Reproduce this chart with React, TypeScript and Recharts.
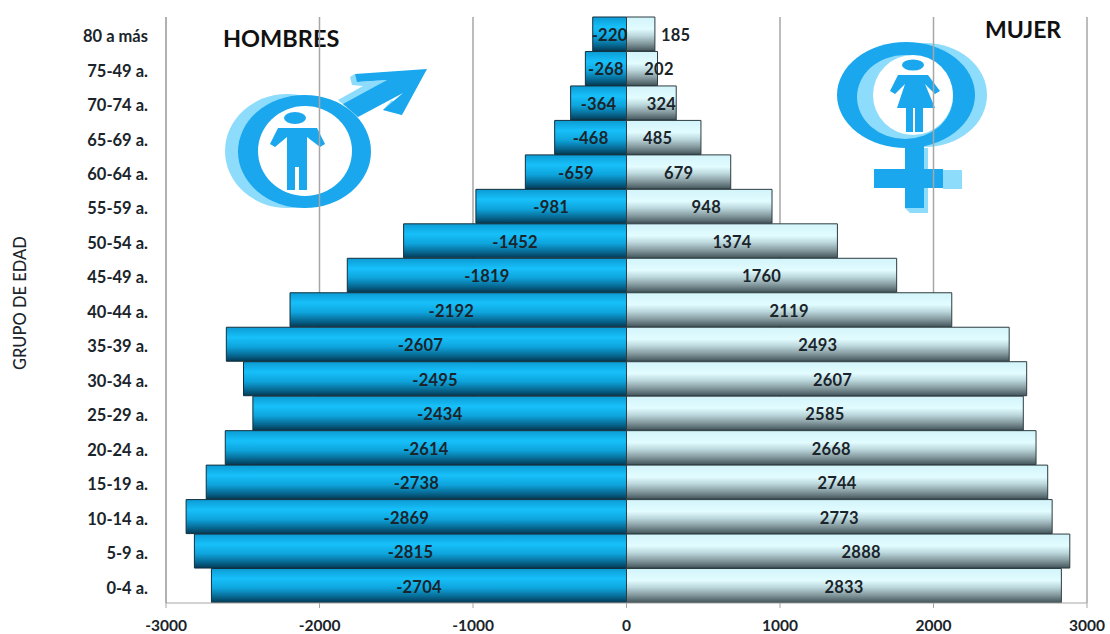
import { BarChart, Bar, XAxis, YAxis, CartesianGrid, LabelList } from 'recharts';

const ageGroups = ['80 a más', '75-49 a.', '70-74 a.', '65-69 a.', '60-64 a.', '55-59 a.', '50-54 a.', '45-49 a.', '40-44 a.', '35-39 a.', '30-34 a.', '25-29 a.', '20-24 a.', '15-19 a.', '10-14 a.', '5-9 a.', '0-4 a.'];
const hombres = [-220, -268, -364, -468, -659, -981, -1452, -1819, -2192, -2607, -2495, -2434, -2614, -2738, -2869, -2815, -2704];
const mujeres = [185, 202, 324, 485, 679, 948, 1374, 1760, 2119, 2493, 2607, 2585, 2668, 2744, 2773, 2888, 2833];
const xTicks = [-3000, -2000, -1000, 0, 1000, 2000, 3000];

// labels Excel left off-centre in the original
const femaleLabelNudge: Record<string, number> = { '80 a más': 35, '75-49 a.': 17, '70-74 a.': 10, '65-69 a.': -6, '55-59 a.': 7, '30-34 a.': 6, '5-9 a.': 13 };
const maleLabelNudge: Record<string, number> = { '40-44 a.': -7, '35-39 a.': -6 };

const data = ageGroups.map((grupo, i) => ({ grupo, hombres: hombres[i], mujeres: mujeres[i] }));

const font = 'Lato, "Open Sans", sans-serif';

function barLabel(nudge: Record<string, number>) {
    return (props: any) => {
        const { x, y, width, height, value, index } = props;
        const shift = nudge[ageGroups[index]] || 0;
        return (
            <text
                x={x + width / 2 + shift}
                y={y + height / 2 + 1}
                textAnchor="middle"
                dominantBaseline="central"
                fontFamily={font}
                fontWeight={700}
                fontSize={16.5}
                letterSpacing={0.2}
                fill="#1a242a"
            >
                {value}
            </text>
        );
    };
}

function Backdrop() {
    const blue = '#1aa7ee';
    const pale = '#8ddcfb';
    return (
        <svg width={1110} height={634} style={{ position: 'absolute', left: 0, top: 0 }}>
            <text x={223} y={47} fontFamily={font} fontWeight={700} fontSize={23.5} fill="#111">HOMBRES</text>
            <text x={985} y={38} fontFamily={font} fontWeight={700} fontSize={23} fill="#111">MUJER</text>

            {/* male symbol */}
            <ellipse cx={287} cy={151} rx={62} ry={57} fill={pale} />
            <polygon points="338,100 363,86 352,85 350,77 355,74 360,82 387,80 345,106" fill={pale} />
            <polygon points="383,110 392,100 402,115" fill={pale} />
            <polygon points="343,104 387,80 357,82 355,74 427,69 402,115 383,110 403,93 358,117" fill={blue} />
            <ellipse cx={304.5} cy={151.5} rx={66.5} ry={56.5} fill={blue} />
            <ellipse cx={305} cy={151} rx={47} ry={45} fill="#fff" />
            <ellipse cx={295} cy={118} rx={11} ry={6} fill={blue} />
            <polygon points="278,128 317,128 325,144 320,147 307,137 307,190 299,190 299,167 295,167 295,190 287,190 287,137 275,147 270,144" fill={blue} />

            {/* female symbol */}
            <ellipse cx={925} cy={95} rx={62} ry={52} fill={pale} />
            <polygon points="943,170 962,170 962,189 943,189" fill={pale} />
            <polygon points="905,208 910,213 928,213 928,148 905,148" fill={pale} />
            <ellipse cx={906} cy={95} rx={69} ry={53} fill={blue} />
            <ellipse cx={905} cy={97} rx={48} ry={42} fill={pale} />
            <ellipse cx={913} cy={95} rx={40} ry={40} fill="#fff" />
            <rect x={905} y={145} width={19} height={63} fill={blue} />
            <rect x={874} y={169} width={69} height={19} fill={blue} />
            <ellipse cx={913} cy={65} rx={11} ry={5.5} fill={blue} />
            <polygon points="898,75 928,75 940,91 935,94 925,84 935,108 923,108 923,132 915,132 915,108 913,108 913,132 906,132 906,108 897,108 905,84 895,94 890,91" fill={blue} />
        </svg>
    );
}

export default function App() {
    return (
        <div style={{ position: 'absolute', left: 0, top: 0, width: 1110, height: 634, background: '#fff' }}>
            <Backdrop />
            <div style={{ position: 'absolute', left: 0, top: 0 }}>
                <BarChart
                    width={1110}
                    height={634}
                    data={data}
                    layout="vertical"
                    stackOffset="sign"
                    barCategoryGap={0}
                    margin={{ top: 17, right: 23, left: 0, bottom: 0 }}
                >
                    <defs>
                        <linearGradient id="gradHombres" x1="0" y1="0" x2="0" y2="1">
                            <stop offset="0%" stopColor="#0c9bd4" />
                            <stop offset="30%" stopColor="#17c0fa" />
                            <stop offset="58%" stopColor="#0ea4dc" />
                            <stop offset="82%" stopColor="#076a94" />
                            <stop offset="100%" stopColor="#033a55" />
                        </linearGradient>
                        <linearGradient id="gradMujeres" x1="0" y1="0" x2="0" y2="1">
                            <stop offset="0%" stopColor="#d2f4fa" />
                            <stop offset="35%" stopColor="#e2fcff" />
                            <stop offset="55%" stopColor="#bcd8dd" />
                            <stop offset="78%" stopColor="#84999e" />
                            <stop offset="100%" stopColor="#42555a" />
                        </linearGradient>
                    </defs>
                    <CartesianGrid horizontal={false} stroke="#a6a6a6" strokeWidth={1.5} />
                    <XAxis
                        type="number"
                        domain={[-3000, 3000]}
                        ticks={xTicks}
                        height={31}
                        interval={0}
                        tickSize={5}
                        tickMargin={12}
                        stroke="#a6a6a6"
                        tick={{ fontFamily: font, fontWeight: 700, fontSize: 15.5, fill: '#1a242a' }}
                    />
                    <YAxis
                        type="category"
                        dataKey="grupo"
                        width={166}
                        interval={0}
                        tickLine={false}
                        tickMargin={12}
                        stroke="#a6a6a6"
                        tick={{ fontFamily: font, fontWeight: 700, fontSize: 16.5, fill: '#1a242a', dy: 2 }}
                        label={{
                            value: 'GRUPO DE EDAD',
                            angle: -90,
                            position: 'insideLeft',
                            offset: 0,
                            dx: 20,
                            dy: 60,
                            fill: '#1a242a',
                            style: { fontFamily: font, fontWeight: 500, fontSize: 16.5, fill: '#1a242a' },
                        }}
                    />
                    <Bar dataKey="hombres" stackId="pop" fill="url(#gradHombres)" stroke="#12303e" strokeWidth={1} isAnimationActive={false}>
                        <LabelList dataKey="hombres" content={barLabel(maleLabelNudge)} />
                    </Bar>
                    <Bar dataKey="mujeres" stackId="pop" fill="url(#gradMujeres)" stroke="#2d3c40" strokeWidth={1} isAnimationActive={false}>
                        <LabelList dataKey="mujeres" content={barLabel(femaleLabelNudge)} />
                    </Bar>
                </BarChart>
            </div>
        </div>
    );
}
